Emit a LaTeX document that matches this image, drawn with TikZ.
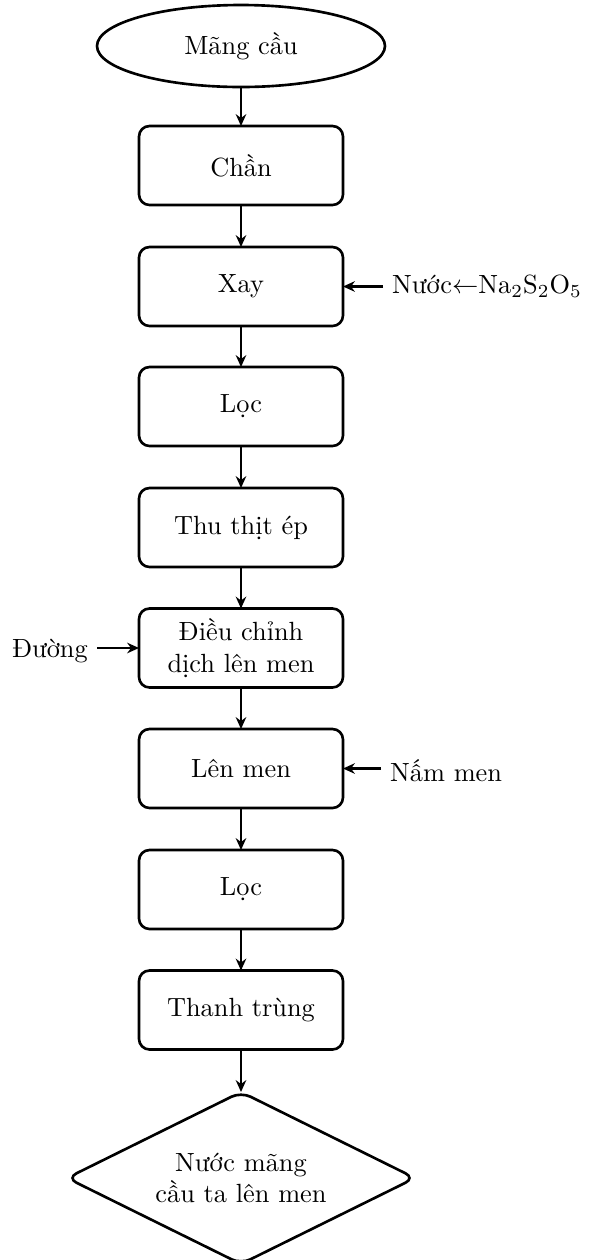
\documentclass[tikz,border=0pt]{standalone}
\usepackage{fontspec}
\usetikzlibrary{shapes.geometric,arrows.meta}
\newcommand\PX{0.38pt}
\begin{document}
\begin{tikzpicture}[x=0.38pt,y=-0.38pt,
  shp/.style={draw, line width=1pt, align=center, inner sep=0pt, outer sep=0pt},
  box/.style={shp, rounded corners=4pt, minimum width=204*\PX, minimum height=79*\PX},
  arr/.style={-{Stealth[length=4.5pt,width=4pt]}, line width=0.8pt},
  side/.style={inner sep=3.3pt}]
\useasboundingbox (0,0) rectangle (594,1260);
\node[shp, ellipse, minimum width=288*\PX, minimum height=82*\PX] (s) at (241,46) {Mãng cầu};
\node[box] (b1) at (241,165.5) {Chần};
\node[box] (b2) at (241,286.5) {Xay};
\node[box] (b3) at (241,406.5) {Lọc};
\node[box] (b4) at (241,527.5) {Thu thịt ép};
\node[box] (b5) at (241,648) {Điều chỉnh\\dịch lên men};
\node[box] (b6) at (241,768.5) {Lên men};
\node[box] (b7) at (241,889.5) {Lọc};
\node[box] (b8) at (241,1010) {Thanh trùng};
\node[shp, diamond, aspect=2, rounded corners=4pt, minimum width=348*\PX, minimum height=172*\PX] (e) at (241,1178) {Nước mãng\\cầu ta lên men};
\draw[arr] (s) -- (b1);
\draw[arr] (b1) -- (b2);
\draw[arr] (b2) -- (b3);
\draw[arr] (b3) -- (b4);
\draw[arr] (b4) -- (b5);
\draw[arr] (b5) -- (b6);
\draw[arr] (b6) -- (b7);
\draw[arr] (b7) -- (b8);
\draw[arr] (b8) -- (e);
\node[side, anchor=west] (l1) at (383,286.5) {Nước$\leftarrow$Na$_2$S$_2$O$_5$};
\node[side, anchor=east] (l2) at (97,651) {Đường};
\node[side, anchor=west] (l3) at (381,771) {Nấm men};
\draw[arr] (l1.west |- b2.east) -- (b2.east);
\draw[arr] (l2.east |- b5.west) -- (b5.west);
\draw[arr] (l3.west |- b6.east) -- (b6.east);
\end{tikzpicture}
\end{document}
